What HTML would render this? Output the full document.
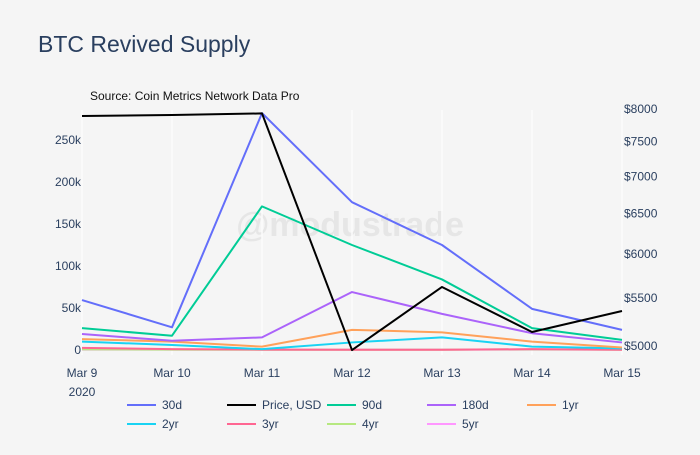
<!DOCTYPE html>
<html><head><meta charset="utf-8"><style>
body{margin:0;background:#f5f5f5;}
svg text{font-family:"Liberation Sans",sans-serif;}
</style></head><body>
<svg width="700" height="450" xmlns="http://www.w3.org/2000/svg">
<rect width="700" height="450" fill="#f5f5f5"/>
<text x="38" y="52" font-size="23" fill="#2a3f5f">BTC Revived Supply</text>
<text x="90" y="100" font-size="12" fill="#111">Source: Coin Metrics Network Data Pro</text>
<text x="350" y="236" font-size="34" font-weight="bold" fill="#e6e6e6" text-anchor="middle">@modustrade</text>
<g id="grid"></g><g id="axes"></g><g id="lines"></g><g id="legend"></g>
</svg>
<script>
const categories=["Mar 9","Mar 10","Mar 11","Mar 12","Mar 13","Mar 14","Mar 15"];
const leftTicks=[0,50000,100000,150000,200000,250000];
const leftTickLabels=["0","50k","100k","150k","200k","250k"];
const rightTicks=[5000,5500,6000,6500,7000,7500,8000];
const rightTickLabels=["$5000","$5500","$6000","$6500","$7000","$7500","$8000"];
const s30d=[59500,27000,282000,176000,125000,49000,24000];
const s90d=[26000,17000,171000,125000,84000,26000,12000];
const s180d=[19000,11000,15000,69000,43000,20000,9000];
const s1yr=[13000,10000,4000,24000,21000,10000,3000];
const s2yr=[10000,6000,1000,9000,15000,4000,2000];
const s3yr=[2500,1000,500,300,300,1000,300];
const s4yr=[800,500,300,300,300,800,300];
const s5yr=[500,500,400,400,400,500,400];
const price=[7890,7905,7930,4960,5621,5141,5359];
const NS="http://www.w3.org/2000/svg";
function x(i){return 82+i*90;}
function yL(v){return 350-v*0.00084;}
function yR(v){return 346-Math.log(v/5000)/Math.log(8000/5000)*237;}
function mk(t,a,p){const e=document.createElementNS(NS,t);for(const k in a)e.setAttribute(k,a[k]);p.appendChild(e);return e;}
const grid=document.getElementById('grid'),axes=document.getElementById('axes'),lines=document.getElementById('lines'),legend=document.getElementById('legend');
categories.forEach((c,i)=>{
 const g=mk('line',{x1:x(i),x2:x(i),y1:110,y2:355,stroke:'#fbfbfb','stroke-width':1.5},grid);
 
 
 const t=mk('text',{x:x(i),y:377,'font-size':12,fill:'#2a3f5f','text-anchor':'middle'},axes);
 t.textContent=c;
 
 
});
const yr=mk('text',{x:82,y:396,'font-size':12,fill:'#2a3f5f','text-anchor':'middle'},axes);
yr.textContent='2020';


leftTicks.forEach((v,i)=>{
 const t=mk('text',{x:81,y:yL(v)+4,'font-size':12,fill:'#2a3f5f','text-anchor':'end'},axes);
 t.textContent=leftTickLabels[i];
 
 
});
rightTicks.forEach((v,i)=>{
 const t=mk('text',{x:624,y:yR(v)+4,'font-size':12,fill:'#2a3f5f'},axes);
 t.textContent=rightTickLabels[i];
 
 
});
const series=[
 {n:'5yr',d:s5yr,c:'#ff97ff',f:yL},{n:'4yr',d:s4yr,c:'#b6e880',f:yL},{n:'3yr',d:s3yr,c:'#ff6692',f:yL},
 {n:'2yr',d:s2yr,c:'#19d3f3',f:yL},{n:'1yr',d:s1yr,c:'#ffa15a',f:yL},{n:'180d',d:s180d,c:'#ab63fa',f:yL},
 {n:'90d',d:s90d,c:'#00cc96',f:yL},{n:'30d',d:s30d,c:'#636efa',f:yL},{n:'Price, USD',d:price,c:'#000',f:yR}];
series.forEach(s=>{
 const p=mk('polyline',{points:s.d.map((v,i)=>x(i)+','+s.f(v)).join(' '),fill:'none',stroke:s.c,'stroke-width':2,'stroke-linejoin':'round'},lines);
 
 
});
const leg=[['30d','#636efa'],['Price, USD','#000'],['90d','#00cc96'],['180d','#ab63fa'],['1yr','#ffa15a'],['2yr','#19d3f3'],['3yr','#ff6692'],['4yr','#b6e880'],['5yr','#ff97ff']];
leg.forEach((l,i)=>{
 const col=i%5,row=Math.floor(i/5);
 const lx=127+col*100,ly=405+row*19;
 const g=mk('g',{},legend);
 
 
 mk('line',{x1:lx,x2:lx+29,y1:ly,y2:ly,stroke:l[1],'stroke-width':2},g);
 const t=mk('text',{x:lx+35,y:ly+4,'font-size':12,fill:'#2a3f5f'},g);
 t.textContent=l[0];
});
</script>
</body></html>
